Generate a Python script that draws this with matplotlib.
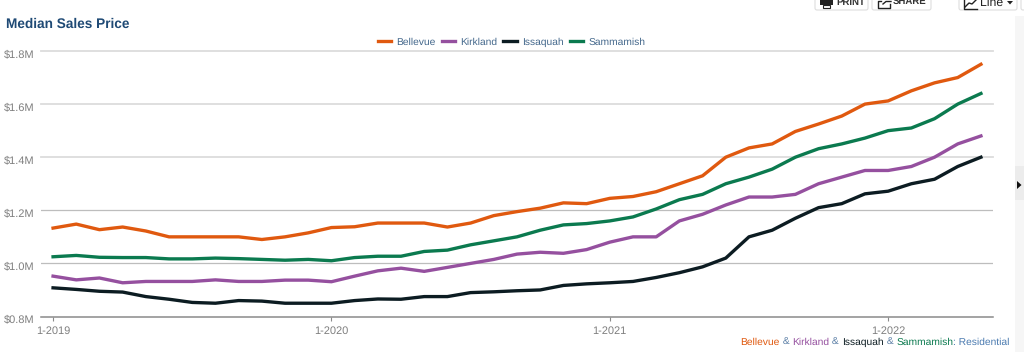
import matplotlib
matplotlib.use("Agg")
import matplotlib.pyplot as plt
from matplotlib.patches import FancyBboxPatch, Rectangle, Polygon
from matplotlib.transforms import ScaledTranslation

plt.rcParams['font.family'] = ['Liberation Sans', 'DejaVu Sans']
plt.rcParams['text.hinting'] = 'none'

# monthly values, Jan 2019 to May 2022, in $M
bellevue = [1.133, 1.148, 1.127, 1.137, 1.122, 1.10, 1.10, 1.10, 1.10, 1.09, 1.10, 1.115, 1.135, 1.138,
            1.152, 1.152, 1.152, 1.137, 1.152, 1.18, 1.195, 1.208, 1.228, 1.225, 1.245, 1.252, 1.27, 1.30,
            1.33, 1.40, 1.435, 1.45, 1.497, 1.525, 1.555, 1.60, 1.612, 1.65, 1.68, 1.70, 1.75]
kirkland = [.952, .938, .945, .927, .932, .932, .932, .938, .932, .932, .937, .937, .931, .952,
            .972, .982, .97, .985, 1.00, 1.015, 1.035, 1.042, 1.038, 1.052, 1.08, 1.10, 1.10, 1.16,
            1.185, 1.22, 1.25, 1.25, 1.26, 1.30, 1.325, 1.35, 1.35, 1.365, 1.40, 1.45, 1.48]
issaquah = [.908, .902, .895, .892, .875, .865, .853, .85, .86, .858, .85, .85, .85, .86,
            .866, .865, .875, .875, .89, .893, .897, .90, .917, .923, .927, .932, .947, .965,
            .987, 1.02, 1.10, 1.125, 1.17, 1.21, 1.225, 1.262, 1.272, 1.30, 1.317, 1.365, 1.40]
sammamish = [1.025, 1.03, 1.023, 1.022, 1.022, 1.017, 1.017, 1.02, 1.018, 1.015, 1.012, 1.015, 1.01, 1.022,
             1.027, 1.027, 1.045, 1.05, 1.07, 1.085, 1.10, 1.125, 1.145, 1.15, 1.16, 1.175, 1.205, 1.24,
             1.26, 1.30, 1.325, 1.355, 1.40, 1.432, 1.45, 1.472, 1.50, 1.51, 1.545, 1.60, 1.64]

series_names = ["Bellevue", "Kirkland", "Issaquah", "Sammamish"]
series_values = [bellevue, kirkland, issaquah, sammamish]
series_colors = ["#e0590f", "#95509f", "#0c1c22", "#0b7a4f"]

y_ticks = [0.8, 1.0, 1.2, 1.4, 1.6, 1.8]
y_labels = ["$0.8M", "$1.0M", "$1.2M", "$1.4M", "$1.6M", "$1.8M"]
x_ticks = [0, 12, 24, 36]
x_labels = ["1-2019", "1-2020", "1-2021", "1-2022"]

W, H = 1024, 352
fig = plt.figure(figsize=(W / 100, H / 100), dpi=100)

# chart area placed by pixels
left, right, top, bottom = 41, 993, 51, 316.5
ax = fig.add_axes([left / W, 1 - bottom / H, (right - left) / W, (bottom - top) / H])
ax.patch.set_alpha(0)
ax.set_xlim(-0.52, 40.52)
ax.set_ylim(0.8, 1.8)

for name, vals, col in zip(series_names, series_values, series_colors):
    ax.plot(range(len(vals)), vals, color=col, lw=2.4, label=name, solid_joinstyle="round", clip_on=False, zorder=3)

for s in ["top", "right", "left"]:
    ax.spines[s].set_visible(False)
ax.spines["bottom"].set_color("#8a8a8a")
ax.spines["bottom"].set_linewidth(1.1)

ax.set_yticks(y_ticks)
ax.set_yticklabels(y_labels)
ax.set_xticks(x_ticks)
ax.set_xticklabels(x_labels)
ax.tick_params(axis="y", length=0, pad=5, labelsize=7.9, labelcolor="#7f7f7f")
ax.tick_params(axis="x", length=3, width=0.8, color="#8a8a8a", pad=3.5, labelsize=7.9, labelcolor="#7f7f7f")
# y labels sit a little under their gridlines
for lab in ax.get_yticklabels():
    lab.set_transform(lab.get_transform() + ScaledTranslation(0, -2.2 / 100, fig.dpi_scale_trans))

# top gridlines look heavier and paler than the lower ones
for v in y_ticks[1:]:
    if v >= 1.4:
        ax.axhline(v, color="#dcdcdc", lw=1.3, zorder=1, clip_on=False)
    else:
        ax.axhline(v, color="#bdbdbd", lw=0.9, zorder=1)

leg = ax.legend(loc="lower center", bbox_to_anchor=(0.494, 0.996), ncols=4, frameon=False, fontsize=7.4,
                handlelength=1.3, handletextpad=0.5, columnspacing=0.6, borderpad=0, labelcolor="#44688c")

# page furniture drawn in pixel coordinates
ui = fig.add_axes([0, 0, 1, 1], zorder=5)
ui.set_xlim(0, W)
ui.set_ylim(H, 0)
ui.axis("off")

ui.text(6, 24.5, "Median Sales Price", color="#1f4a75", fontsize=9.85, fontweight="bold", va="center", ha="left")

# grey strip on the right edge with its arrow
ui.add_patch(Rectangle((1014.5, 16), 9.5, 336, color="#f6f6f6", lw=0))
ui.add_patch(Rectangle((1014.5, 166), 9.5, 34, color="#ececec", lw=0))
ui.add_patch(Polygon([(1017, 181), (1017, 189), (1021.5, 185)], color="#111111", lw=0))

for x0, x1 in [(815, 868), (872, 931), (959, 1017), (1021, 1040)]:
    ui.add_patch(FancyBboxPatch((x0, -8), x1 - x0, 18, boxstyle="round,pad=0,rounding_size=2",
                                fc="white", ec="#dddddd", lw=0.8))
ui.text(836, 5, "PRINT", fontsize=6.9, fontweight="bold", color="#333333", va="baseline", ha="left")
ui.text(893, 5, "SHARE", fontsize=6.9, fontweight="bold", color="#333333", va="baseline", ha="left")
ui.text(980, 5.5, "Line", fontsize=8.8, color="#222222", va="baseline", ha="left")
ui.add_patch(Rectangle((820, 0), 13, 5, color="#222222", lw=0))
ui.add_patch(Rectangle((823, 5), 7, 2.5, fc="white", ec="#222222", lw=0.8))
ui.plot([881, 878, 878, 890, 890], [0.5, 0.5, 7.5, 7.5, 4], color="#222222", lw=1)
ui.plot([883, 886, 891], [4, 1.5, 1.5], color="#222222", lw=1)
ui.plot([963.5, 963.5, 977], [0, 8.5, 8.5], color="#222222", lw=1)
ui.plot([965, 969, 972, 976], [7, 3, 4, 0], color="#222222", lw=1)
ui.add_patch(Polygon([(1007, 1), (1013, 1), (1010, 4.5)], color="#222222", lw=0))

# coloured source line, each part placed after the previous one
parts = [("Bellevue", "#e0590f"), (" & ", "#5b7fa6"), ("Kirkland", "#95509f"), (" & ", "#5b7fa6"),
         ("Issaquah", "#0c1c22"), (" & ", "#5b7fa6"), ("Sammamish", "#0b7a4f"), (": Residential", "#4a7ab0")]
prev = ui.text(740.5, 342, parts[0][0], color=parts[0][1], fontsize=7.4, va="center", ha="left")
for txt, col in parts[1:]:
    prev = ui.annotate(txt, xy=(1, 0), xycoords=prev, xytext=(0, 0), textcoords="offset points",
                       color=col, fontsize=7.4, va="bottom", ha="left")

fig.savefig("out.png", dpi=100)
